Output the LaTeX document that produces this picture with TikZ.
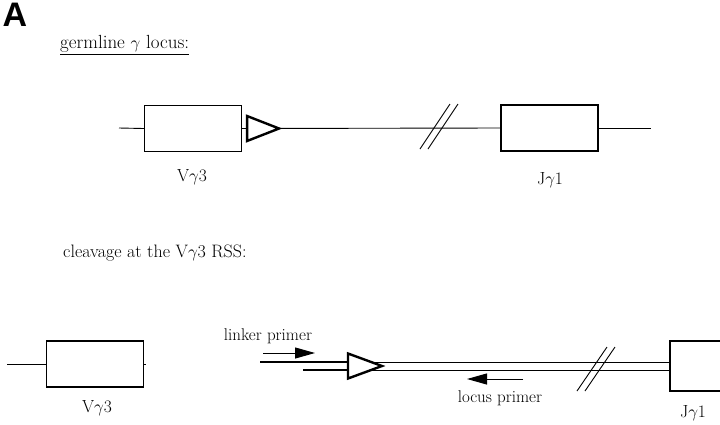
\documentclass[tikz,border=0pt]{standalone}
\usepackage{fontspec}
\newfontfamily\panelfont{Liberation Sans}
\usetikzlibrary{arrows.meta}
\tikzset{dna/.style={line width=0.9pt},
  genebox/.style={draw, line width=1.1pt, fill=white, minimum width=97pt, minimum height=46pt, inner sep=0pt},
  rss/.style={line width=2.4pt, fill=white, line join=miter},
  strand/.style={line width=2.2pt},
  primer/.style={line width=1pt, -{Triangle[length=20pt,width=11pt]}},
  lab/.style={font=\fontsize{17.5}{20}\selectfont, inner sep=0pt},
  small lab/.style={font=\fontsize{17}{20}\selectfont, inner sep=0pt}}
\begin{document}
\begin{tikzpicture}[x=1pt,y=-1pt]
  \useasboundingbox (0,0) rectangle (720,424);
  \clip (0,0) rectangle (720,424);

  \node[font=\panelfont\bfseries\fontsize{34}{34}\selectfont, inner sep=0pt] (panel) at (15,15) {A};

  \node[lab, font=\fontsize{19}{22}\selectfont, anchor=west] (germline) at (60,45) {\underline{germline $\gamma$ locus:}};
  \coordinate (left end) at (119,128);
  \coordinate (right end) at (651,128);
  \node[genebox] (v top) at (193,128.5) {};
  \node[genebox] (j top) at (549.5,128) {};
  \draw[dna] (left end) -- (v top.west);
  \draw[dna] (v top.east) -- (j top.west);
  \draw[dna] (j top.east) -- (right end);
  \draw[rss] (v top.east) ++(5,-12.5) -- ++(32,12.5) -- ++(-32,12.5) -- cycle;
  \coordinate (break top) at (439,127);
  \foreach \dx in {-4,4}
    \draw[dna] ([xshift=\dx pt]break top) ++(-15,22) -- ++(30,-45);
  \node[lab] (v top lab) at (192,177) {V$\gamma$3};
  \node[lab] (j top lab) at (550,180) {J$\gamma$1};

  \node[lab, font=\fontsize{18}{22}\selectfont, anchor=west] (cleavage) at (63,253) {cleavage at the V$\gamma$3 RSS:};
  \node[genebox] (v cut) at (95,364) {};
  \coordinate (cut left) at (7,364);
  \coordinate (cut stub) at (146,364);
  \draw[dna] (cut left) -- (v cut.west);
  \draw[dna] (v cut.east) -- (cut stub);
  \node[lab] (v cut lab) at (97,408) {V$\gamma$3};

  \node[genebox, minimum height=50pt] (j cut) at (718.5,366) {};
  \coordinate (rss cut) at (348,366);
  \draw[dna] ([yshift=4pt]rss cut) -- ([yshift=4pt]j cut.west);
  \draw[dna] ([yshift=-4pt]rss cut) -- ([yshift=-4pt]j cut.west);
  \coordinate (linker top) at (260,362);
  \coordinate (linker bottom) at (303,370);
  \draw[strand] (linker top) -- ([yshift=4pt]rss cut);
  \draw[strand] (linker bottom) -- ([yshift=-4pt]rss cut);
  \draw[rss] (rss cut) ++(0,-12.5) -- ++(34,12.5) -- ++(-34,12.5) -- cycle;

  \coordinate (linker from) at (263,353);
  \coordinate (linker to) at (315,353);
  \draw[primer] (linker from) -- (linker to);
  \node[small lab] (linker) at (268,336) {linker primer};
  \coordinate (locus from) at (523,379);
  \coordinate (locus to) at (467,379);
  \draw[primer] (locus from) -- (locus to);
  \node[small lab] (locus) at (500,398) {locus primer};

  \coordinate (break cut) at (596,369);
  \foreach \dx in {-4,4}
    \draw[dna] ([xshift=\dx pt]break cut) ++(-15,22) -- ++(30,-44);
  \node[lab] (j cut lab) at (693,413) {J$\gamma$1};
\end{tikzpicture}
\end{document}
